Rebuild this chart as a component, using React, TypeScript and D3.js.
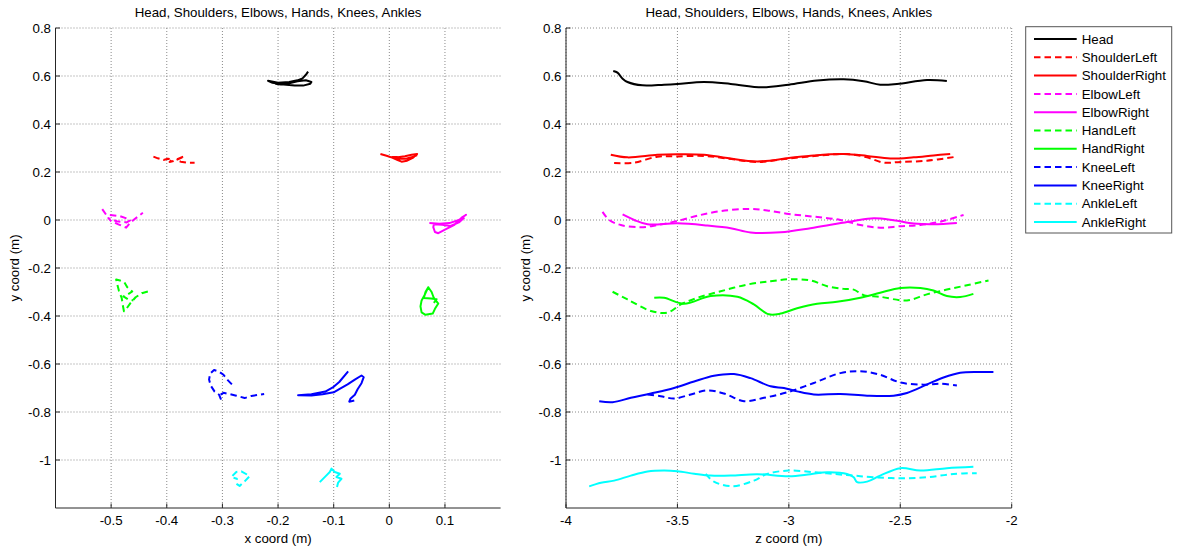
import React from "react";
import * as d3 from "d3";

type P = [number, number];

const seriesNames = ["Head", "ShoulderLeft", "ShoulderRight", "ElbowLeft", "ElbowRight", "HandLeft", "HandRight", "KneeLeft", "KneeRight", "AnkleLeft", "AnkleRight"];
const seriesColors = ["#000000", "#ff0000", "#ff0000", "#ff00ff", "#ff00ff", "#00ff00", "#00ff00", "#0000ff", "#0000ff", "#00ffff", "#00ffff"];
const seriesDashed = [false, true, false, true, false, true, false, true, false, true, false];

const titleText = "Head, Shoulders, Elbows, Hands, Knees, Ankles";
const xTicksLeft = [-0.5, -0.4, -0.3, -0.2, -0.1, 0, 0.1];
const xTicksRight = [-4, -3.5, -3, -2.5, -2];
const yTicks = [0.8, 0.6, 0.4, 0.2, 0, -0.2, -0.4, -0.6, -0.8, -1];

// ---- x-y (front view) trajectories ----
const xyHead: P[] = [[-0.146, 0.618], [-0.15, 0.605], [-0.156, 0.59], [-0.165, 0.582], [-0.18, 0.575], [-0.2, 0.572], [-0.218, 0.58], [-0.21, 0.572], [-0.19, 0.565], [-0.17, 0.56], [-0.155, 0.56], [-0.142, 0.568], [-0.14, 0.575], [-0.15, 0.582], [-0.165, 0.578], [-0.18, 0.57], [-0.195, 0.565], [-0.205, 0.568]];
const xyShoulderLeft: P[] = [[-0.424, 0.264], [-0.416, 0.257], [-0.406, 0.25], [-0.398, 0.255], [-0.39, 0.252], [-0.395, 0.242], [-0.388, 0.246], [-0.38, 0.255], [-0.368, 0.267], [-0.375, 0.258], [-0.383, 0.25], [-0.375, 0.243], [-0.365, 0.239], [-0.35, 0.239]];
const xyShoulderRight: P[] = [[-0.016, 0.275], [-0.005, 0.268], [0.005, 0.26], [0.015, 0.25], [0.022, 0.243], [0.032, 0.247], [0.043, 0.26], [0.05, 0.275], [0.04, 0.272], [0.028, 0.266], [0.015, 0.262], [0.005, 0.262], [0.015, 0.255], [0.03, 0.255], [0.045, 0.265], [0.05, 0.27]];
const xyElbowLeft: P[] = [[-0.516, 0.045], [-0.509, 0.022], [-0.498, 0.02], [-0.484, 0.016], [-0.47, 0.005], [-0.466, -0.002], [-0.472, -0.01], [-0.49, -0.005], [-0.505, 0.008], [-0.5, -0.005], [-0.487, -0.018], [-0.473, -0.032], [-0.467, -0.015], [-0.46, 0.0], [-0.443, 0.03]];
const xyElbowRight: P[] = [[0.072, -0.013], [0.09, -0.016], [0.108, -0.013], [0.125, 0.0], [0.138, 0.022], [0.13, 0.01], [0.117, -0.02], [0.1, -0.04], [0.088, -0.055], [0.082, -0.05], [0.079, -0.03], [0.08, -0.018], [0.095, -0.02], [0.11, -0.025], [0.125, -0.01], [0.135, 0.01]];
const xyHandLeft: P[] = [[-0.434, -0.298], [-0.445, -0.305], [-0.456, -0.322], [-0.465, -0.345], [-0.472, -0.368], [-0.477, -0.38], [-0.479, -0.355], [-0.481, -0.325], [-0.486, -0.295], [-0.489, -0.268], [-0.491, -0.248], [-0.484, -0.252], [-0.476, -0.26], [-0.471, -0.28], [-0.462, -0.298], [-0.47, -0.31], [-0.478, -0.318], [-0.47, -0.33], [-0.46, -0.335]];
const xyHandRight: P[] = [[0.07, -0.28], [0.076, -0.3], [0.08, -0.325], [0.088, -0.348], [0.082, -0.37], [0.078, -0.39], [0.065, -0.395], [0.058, -0.385], [0.056, -0.36], [0.058, -0.335], [0.064, -0.31], [0.07, -0.28], [0.065, -0.3], [0.062, -0.325], [0.075, -0.327], [0.085, -0.33], [0.08, -0.345]];
const xyKneeLeft: P[] = [[-0.283, -0.685], [-0.29, -0.668], [-0.298, -0.645], [-0.306, -0.632], [-0.315, -0.625], [-0.322, -0.64], [-0.324, -0.665], [-0.321, -0.69], [-0.314, -0.715], [-0.306, -0.728], [-0.303, -0.745], [-0.305, -0.73], [-0.298, -0.72], [-0.288, -0.725], [-0.275, -0.732], [-0.26, -0.742], [-0.248, -0.733], [-0.225, -0.725]];
const xyKneeRight: P[] = [[-0.074, -0.631], [-0.09, -0.675], [-0.1, -0.695], [-0.115, -0.715], [-0.14, -0.726], [-0.164, -0.73], [-0.14, -0.731], [-0.12, -0.726], [-0.1, -0.718], [-0.09, -0.705], [-0.075, -0.685], [-0.062, -0.665], [-0.05, -0.648], [-0.046, -0.655], [-0.05, -0.68], [-0.057, -0.705], [-0.062, -0.728], [-0.07, -0.745], [-0.072, -0.757], [-0.063, -0.752]];
const xyAnkleLeft: P[] = [[-0.282, -1.066], [-0.275, -1.05], [-0.266, -1.047], [-0.251, -1.067], [-0.26, -1.089], [-0.269, -1.108], [-0.275, -1.099], [-0.274, -1.078], [-0.28, -1.074]];
const xyAnkleRight: P[] = [[-0.125, -1.092], [-0.113, -1.064], [-0.107, -1.05], [-0.104, -1.036], [-0.098, -1.05], [-0.089, -1.057], [-0.095, -1.071], [-0.086, -1.078], [-0.092, -1.094], [-0.094, -1.112]];

// ---- z-y (side view) trajectories ----
const zyHead: P[] = [[-3.788, 0.621], [-3.769, 0.614], [-3.746, 0.589], [-3.724, 0.575], [-3.657, 0.561], [-3.56, 0.564], [-3.5, 0.567], [-3.381, 0.575], [-3.261, 0.567], [-3.119, 0.553], [-3.0, 0.564], [-2.873, 0.581], [-2.754, 0.586], [-2.664, 0.578], [-2.59, 0.564], [-2.515, 0.567], [-2.38, 0.583], [-2.291, 0.579]];
const zyShoulderLeft: P[] = [[-3.784, 0.237], [-3.694, 0.239], [-3.59, 0.264], [-3.5, 0.265], [-3.381, 0.267], [-3.276, 0.256], [-3.142, 0.242], [-3.0, 0.256], [-2.858, 0.269], [-2.739, 0.275], [-2.649, 0.261], [-2.575, 0.239], [-2.5, 0.242], [-2.381, 0.247], [-2.261, 0.262]];
const zyShoulderRight: P[] = [[-3.799, 0.272], [-3.724, 0.261], [-3.59, 0.272], [-3.5, 0.274], [-3.381, 0.272], [-3.276, 0.258], [-3.142, 0.244], [-3.0, 0.258], [-2.888, 0.269], [-2.754, 0.275], [-2.649, 0.267], [-2.545, 0.256], [-2.44, 0.261], [-2.351, 0.269], [-2.276, 0.275]];
const zyElbowLeft: P[] = [[-3.836, 0.034], [-3.806, 0.0], [-3.754, -0.021], [-3.664, -0.03], [-3.59, -0.021], [-3.5, -0.004], [-3.41, 0.018], [-3.306, 0.037], [-3.187, 0.046], [-3.097, 0.04], [-3.0, 0.025], [-2.888, 0.014], [-2.769, 0.0], [-2.679, -0.021], [-2.59, -0.032], [-2.5, -0.026], [-2.41, -0.021], [-2.321, -0.007], [-2.216, 0.021]];
const zyElbowRight: P[] = [[-3.746, 0.023], [-3.694, 0.0], [-3.634, -0.018], [-3.5, -0.014], [-3.366, -0.023], [-3.261, -0.034], [-3.172, -0.052], [-3.037, -0.051], [-2.903, -0.034], [-2.799, -0.018], [-2.709, -0.004], [-2.619, 0.007], [-2.53, -0.001], [-2.44, -0.015], [-2.351, -0.018], [-2.246, -0.012]];
const zyHandLeft: P[] = [[-3.791, -0.299], [-3.724, -0.331], [-3.619, -0.379], [-3.545, -0.386], [-3.485, -0.352], [-3.41, -0.324], [-3.306, -0.297], [-3.187, -0.269], [-3.082, -0.255], [-3.0, -0.247], [-2.903, -0.252], [-2.828, -0.276], [-2.754, -0.287], [-2.709, -0.29], [-2.664, -0.313], [-2.59, -0.32], [-2.47, -0.335], [-2.381, -0.31], [-2.291, -0.29], [-2.201, -0.272], [-2.104, -0.252]];
const zyHandRight: P[] = [[-3.604, -0.324], [-3.56, -0.324], [-3.47, -0.349], [-3.351, -0.317], [-3.231, -0.32], [-3.157, -0.352], [-3.09, -0.393], [-3.037, -0.39], [-2.963, -0.368], [-2.873, -0.349], [-2.784, -0.341], [-2.679, -0.324], [-2.59, -0.303], [-2.5, -0.283], [-2.41, -0.283], [-2.351, -0.294], [-2.291, -0.317], [-2.231, -0.321], [-2.172, -0.308]];
const zyKneeLeft: P[] = [[-3.634, -0.727], [-3.575, -0.734], [-3.515, -0.744], [-3.44, -0.727], [-3.366, -0.71], [-3.291, -0.723], [-3.201, -0.755], [-3.112, -0.741], [-3.007, -0.718], [-2.888, -0.679], [-2.769, -0.638], [-2.679, -0.63], [-2.59, -0.645], [-2.5, -0.677], [-2.396, -0.686], [-2.321, -0.682], [-2.246, -0.69]];
const zyKneeRight: P[] = [[-3.851, -0.755], [-3.791, -0.759], [-3.709, -0.741], [-3.619, -0.723], [-3.515, -0.7], [-3.425, -0.673], [-3.336, -0.649], [-3.246, -0.642], [-3.172, -0.659], [-3.082, -0.693], [-3.022, -0.7], [-2.963, -0.714], [-2.888, -0.727], [-2.769, -0.725], [-2.649, -0.732], [-2.53, -0.732], [-2.47, -0.721], [-2.381, -0.686], [-2.306, -0.656], [-2.231, -0.636], [-2.142, -0.633], [-2.082, -0.633]];
const zyAnkleLeft: P[] = [[-3.373, -1.058], [-3.336, -1.09], [-3.254, -1.109], [-3.157, -1.086], [-3.097, -1.058], [-3.0, -1.044], [-2.888, -1.051], [-2.799, -1.058], [-2.709, -1.065], [-2.619, -1.072], [-2.5, -1.076], [-2.381, -1.072], [-2.261, -1.058], [-2.157, -1.055]];
const zyAnkleRight: P[] = [[-3.896, -1.11], [-3.843, -1.095], [-3.784, -1.086], [-3.709, -1.065], [-3.634, -1.048], [-3.56, -1.044], [-3.5, -1.047], [-3.425, -1.057], [-3.351, -1.065], [-3.261, -1.065], [-3.142, -1.059], [-3.0, -1.068], [-2.903, -1.059], [-2.828, -1.051], [-2.739, -1.058], [-2.709, -1.072], [-2.694, -1.092], [-2.649, -1.09], [-2.59, -1.065], [-2.5, -1.034], [-2.41, -1.044], [-2.291, -1.034], [-2.172, -1.028]];

const xySeries = [xyHead, xyShoulderLeft, xyShoulderRight, xyElbowLeft, xyElbowRight, xyHandLeft, xyHandRight, xyKneeLeft, xyKneeRight, xyAnkleLeft, xyAnkleRight];
const zySeries = [zyHead, zyShoulderLeft, zyShoulderRight, zyElbowLeft, zyElbowRight, zyHandLeft, zyHandRight, zyKneeLeft, zyKneeRight, zyAnkleLeft, zyAnkleRight];

const W = 1177;
const H = 552;
const TOP = 28;
const BOTTOM = 508;
const FONT = "'Liberation Sans', Arial, Helvetica, sans-serif";
const FS = 13.3;
const DASH = "6.5,4";

const fmt = (v: number) => {
  const r = Math.round(v * 1000) / 1000;
  return r === 0 ? "0" : String(r);
};

function Panel(props: { x0: number; x1: number; xDomain: [number, number]; xTicks: number[]; xLabel: string; data: P[][]; smooth: boolean }) {
  const { x0, x1, xDomain, xTicks, xLabel, data, smooth } = props;
  const xs = d3.scaleLinear().domain(xDomain).range([x0, x1]);
  const ys = d3.scaleLinear().domain([-1.2, 0.8]).range([BOTTOM, TOP]);
  const line = d3
    .line<P>()
    .x((d) => xs(d[0]))
    .y((d) => ys(d[1]))
    .curve(smooth ? d3.curveCatmullRom.alpha(0.5) : d3.curveLinear);
  const cx = (x0 + x1) / 2;
  const cy = (TOP + BOTTOM) / 2;
  return (
    <g>
      {/* grid */}
      {xTicks.map((t, i) => (
        <line key={"gx" + i} x1={xs(t)} x2={xs(t)} y1={TOP} y2={BOTTOM} stroke="#8a8a8a" strokeWidth={1} strokeDasharray="1,2" />
      ))}
      {yTicks.map((t, i) => (
        <line key={"gy" + i} x1={x0} x2={x1} y1={ys(t)} y2={ys(t)} stroke="#8a8a8a" strokeWidth={1} strokeDasharray="1,2" />
      ))}
      {/* data */}
      {data.map((d, i) => (
        <path
          key={"s" + i}
          d={line(d) || ""}
          fill="none"
          stroke={seriesColors[i]}
          strokeWidth={2}
          strokeDasharray={seriesDashed[i] ? DASH : undefined}
          strokeLinejoin="round"
        />
      ))}
      {/* axes */}
      <line x1={x0} x2={x1} y1={BOTTOM} y2={BOTTOM} stroke="#262626" strokeWidth={1} />
      <line x1={x0} x2={x0} y1={TOP} y2={BOTTOM} stroke="#262626" strokeWidth={1} />
      {xTicks.map((t, i) => (
        <line key={"tx" + i} x1={xs(t)} x2={xs(t)} y1={BOTTOM} y2={BOTTOM - 4.5} stroke="#262626" strokeWidth={1} />
      ))}
      {yTicks.map((t, i) => (
        <line key={"ty" + i} x1={x0} x2={x0 + 4.5} y1={ys(t)} y2={ys(t)} stroke="#262626" strokeWidth={1} />
      ))}
      {/* tick labels */}
      {xTicks.map((t, i) => (
        <text key={"lx" + i} x={xs(t)} y={BOTTOM + 12.6} dy="0.35em" textAnchor="middle" fontFamily={FONT} fontSize={FS} fill="#000">
          {fmt(t)}
        </text>
      ))}
      {yTicks.map((t, i) => (
        <text key={"ly" + i} x={x0 - 4.5} y={ys(t)} dy="0.35em" textAnchor="end" fontFamily={FONT} fontSize={FS} fill="#000">
          {fmt(t)}
        </text>
      ))}
      <text x={cx} y={12.5} dy="0.35em" textAnchor="middle" fontFamily={FONT} fontSize={FS} fill="#000">
        {titleText}
      </text>
      <text x={cx} y={538} dy="0.35em" textAnchor="middle" fontFamily={FONT} fontSize={FS} fill="#000">
        {xLabel}
      </text>
      <text
        transform={`translate(${x0 - 41},${cy}) rotate(-90)`}
        dy="0.35em"
        textAnchor="middle"
        fontFamily={FONT}
        fontSize={FS}
        fill="#000"
      >
        y coord (m)
      </text>
    </g>
  );
}

function Legend() {
  const lx = 1025.7;
  const ly = 26.7;
  const lw = 146;
  const lh = 206.3;
  const first = 39;
  const step = 18.3;
  return (
    <g>
      <rect x={lx} y={ly} width={lw} height={lh} fill="#fff" stroke="#555" strokeWidth={1} />
      {seriesNames.map((n, i) => (
        <g key={n}>
          <line
            x1={1034}
            x2={1076.7}
            y1={first + i * step}
            y2={first + i * step}
            stroke={seriesColors[i]}
            strokeWidth={2}
            strokeDasharray={seriesDashed[i] ? DASH : undefined}
          />
          <text x={1081.7} y={first + i * step} dy="0.35em" fontFamily={FONT} fontSize={FS} fill="#000">
            {n}
          </text>
        </g>
      ))}
    </g>
  );
}

export default function App() {
  return (
    <svg width={W} height={H} viewBox={`0 0 ${W} ${H}`} style={{ position: "absolute", left: 0, top: 0, background: "#fff" }}>
      <rect x={0} y={0} width={W} height={H} fill="#fff" />
      <Panel x0={55.5} x1={500.6} xDomain={[-0.6, 0.2]} xTicks={xTicksLeft} xLabel="x coord (m)" data={xySeries} smooth={false} />
      <Panel x0={566} x1={1011.7} xDomain={[-4, -2]} xTicks={xTicksRight} xLabel="z coord (m)" data={zySeries} smooth={true} />
      <Legend />
    </svg>
  );
}
